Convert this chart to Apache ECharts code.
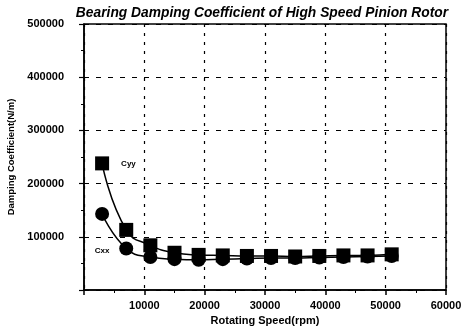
<!DOCTYPE html>
<html><head><meta charset="utf-8">
<script src="https://cdn.jsdelivr.net/npm/echarts@6/dist/echarts.min.js"></script>
<style>html,body{margin:0;padding:0;background:#fff}#c{width:468px;height:327px}</style>
</head><body><div id="c"></div>
<script>
var speeds = [3000, 7000, 11000, 15000, 19000, 23000, 27000, 31000, 35000, 39000, 43000, 47000, 51000];
var cyy = [238000, 113000, 84000, 70000, 66000, 65000, 64000, 64000, 63000, 64000, 65000, 65000, 67000];
var cxx = [143000, 78000, 62000, 58000, 57000, 58000, 59000, 60000, 60000, 61000, 62000, 63000, 64000];
var titleText = 'Bearing Damping Coefficient of High Speed Pinion Rotor';
var xName = 'Rotating Speed(rpm)';
var yName = 'Damping Coefficient(N/m)';

function pairs(xs, ys){ return xs.map(function(x,i){ return [x, ys[i]]; }); }
var chart = echarts.init(document.getElementById('c'), null, {renderer:'canvas'});
var font = 'Liberation Sans, Arial, sans-serif';
chart.setOption({
  animation:false,
  backgroundColor:'#fff',
  title:{text:titleText, left:257, top:1, textAlign:'center',
    textStyle:{fontFamily:font, fontSize:13.8, fontWeight:'bold', fontStyle:'italic', color:'#000'}},
  grid:{left:84, right:22, top:24, bottom:37, show:true, borderColor:'#000', borderWidth:1.5,
    outerBoundsMode:'none', containLabel:false},
  xAxis:{type:'value', min:0, max:60000, interval:10000,
    name:xName, nameLocation:'middle', nameGap:23,
    nameTextStyle:{fontFamily:font, fontSize:11, fontWeight:'bold', color:'#000'},
    axisLine:{lineStyle:{color:'#000', width:1.5}},
    axisTick:{show:true, inside:false, length:5, lineStyle:{color:'#000', width:1.5}},
    minorTick:{show:true, splitNumber:2, length:3, lineStyle:{color:'#000'}},
    splitLine:{show:true, lineStyle:{color:'#000', type:[3,6], width:1.2}},
    axisLabel:{fontFamily:font, fontSize:11, fontWeight:'bold', color:'#000', margin:10,
      formatter:function(v){return v===0?'':String(v);}}
  },
  yAxis:{type:'value', min:0, max:500000, interval:100000,
    name:yName, nameLocation:'middle', nameGap:62, nameRotate:90,
    nameTextStyle:{fontFamily:font, fontSize:9.5, fontWeight:'bold', color:'#000'},
    axisLine:{lineStyle:{color:'#000', width:1.5}},
    axisTick:{show:true, length:5, lineStyle:{color:'#000', width:1.2}},
    minorTick:{show:true, splitNumber:2, length:3, lineStyle:{color:'#000'}},
    splitLine:{show:true, lineStyle:{color:'#000', type:[5,7], width:1.2}},
    axisLabel:{fontFamily:font, fontSize:11, fontWeight:'bold', color:'#000', margin:20,
      formatter:function(v){return v===0?'':String(v);}}
  },
  series:[
    {name:'Cyy', type:'line', smooth:0.5, data:pairs(speeds, cyy), symbol:'rect', symbolSize:14,
      itemStyle:{color:'#000'}, lineStyle:{color:'#000', width:1.5},
      label:{show:true, formatter:function(p){return p.dataIndex===0?'Cyy':'';}, position:'right', distance:12,
        fontFamily:font, fontSize:8, fontWeight:'bold', color:'#000'}},
    {name:'Cxx', type:'line', smooth:0.5, data:pairs(speeds, cxx), symbol:'circle', symbolSize:14,
      itemStyle:{color:'#000'}, lineStyle:{color:'#000', width:1.5},
      label:{show:true, formatter:function(p){return p.dataIndex===0?'Cxx':'';}, position:'bottom', distance:26,
        fontFamily:font, fontSize:8, fontWeight:'bold', color:'#000'}}
  ]
});
</script></body></html>
